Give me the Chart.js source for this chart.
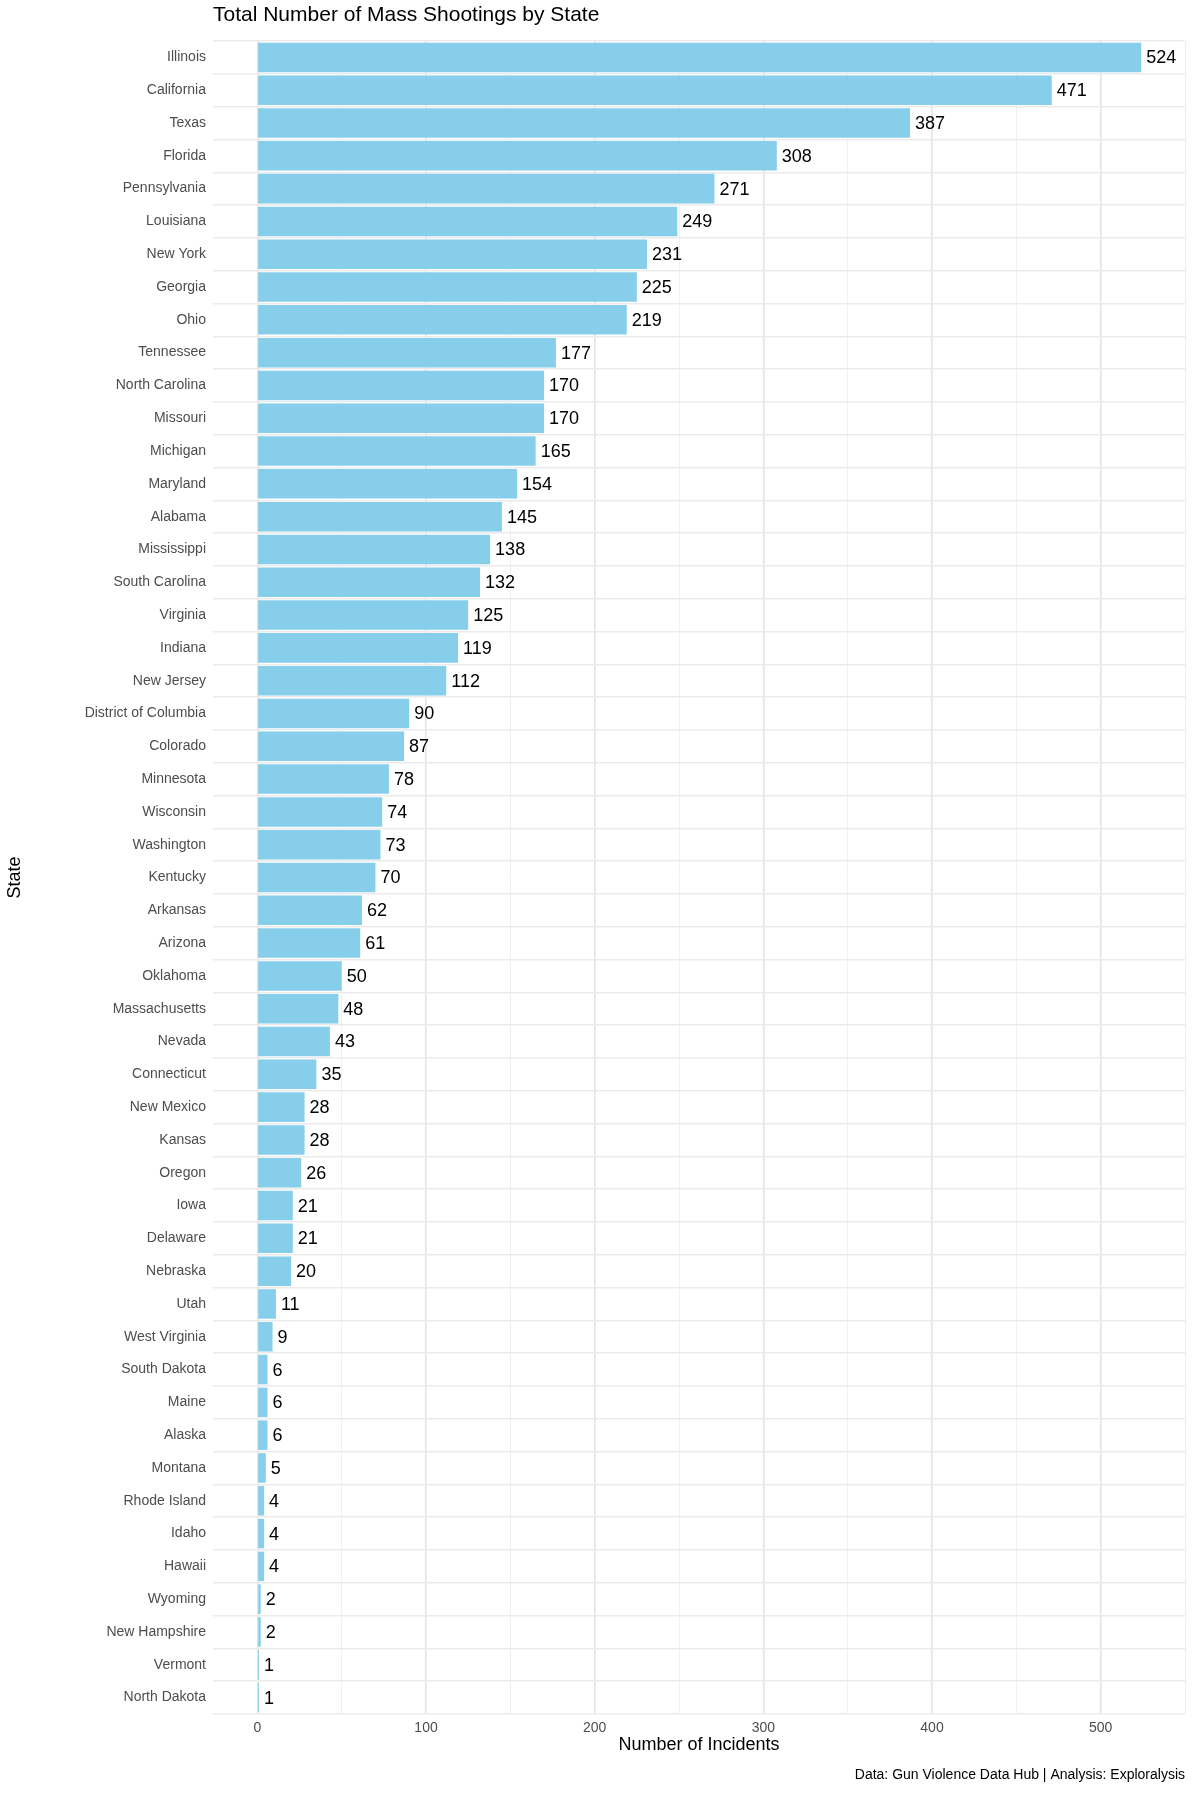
<!DOCTYPE html>
<html><head><script src="https://cdn.jsdelivr.net/npm/chart.js@4"></script>
<style>body{margin:0;background:#fff}</style></head>
<body><canvas id="c" width="1200" height="1800" style="width:1200px;height:1800px"></canvas>
<script>
const states=["Illinois","California","Texas","Florida","Pennsylvania","Louisiana","New York","Georgia","Ohio","Tennessee","North Carolina","Missouri","Michigan","Maryland","Alabama","Mississippi","South Carolina","Virginia","Indiana","New Jersey","District of Columbia","Colorado","Minnesota","Wisconsin","Washington","Kentucky","Arkansas","Arizona","Oklahoma","Massachusetts","Nevada","Connecticut","New Mexico","Kansas","Oregon","Iowa","Delaware","Nebraska","Utah","West Virginia","South Dakota","Maine","Alaska","Montana","Rhode Island","Idaho","Hawaii","Wyoming","New Hampshire","Vermont","North Dakota"];
const incidents=[524,471,387,308,271,249,231,225,219,177,170,170,165,154,145,138,132,125,119,112,90,87,78,74,73,70,62,61,50,48,43,35,28,28,26,21,21,20,11,9,6,6,6,5,4,4,4,2,2,1,1];
const xTicks=[0,50,100,150,200,250,300,350,400,450,500,550];
const F="Liberation Sans, Arial, sans-serif";
const deco={id:'deco',afterDatasetsDraw(ch){const c=ch.ctx;const m=ch.getDatasetMeta(0);c.save();c.fillStyle='#000';c.font='18px '+F;c.textBaseline='middle';
m.data.forEach((b,i)=>c.fillText(incidents[i],b.x+5,b.y+1));
c.font='21px '+F;c.textBaseline='top';c.fillText('Total Number of Mass Shootings by State',213,5);
c.font='14px '+F;c.textAlign='right';c.fillText('Data: Gun Violence Data Hub | Analysis: Exploralysis',1185,1768);c.restore();}};
new Chart(document.getElementById('c'),{type:'bar',
data:{labels:states,datasets:[{data:incidents,backgroundColor:'#87CEEB',categoryPercentage:0.9,barPercentage:1}]},
options:{indexAxis:'y',responsive:false,animation:false,layout:{padding:{top:41,bottom:40,right:15,left:0}},
plugins:{legend:{display:false},tooltip:{enabled:false}},
scales:{x:{min:-26.3,max:550,afterBuildTicks(s){s.ticks=xTicks.map(v=>({value:v}));},afterFit(s){s.height=46;},
border:{display:false},grid:{color:c=>(c.tick&&c.tick.value%100===0)?'#e4e4e4':'#f0f0f0',lineWidth:c=>(c.tick&&c.tick.value%100===0)?1.6:1,drawTicks:false},
ticks:{padding:6,color:'#4d4d4d',font:{size:14,family:F},callback:v=>v%100===0?v:''},
title:{display:true,text:'Number of Incidents',color:'#000',font:{size:18,family:F},padding:{top:2}}},
y:{afterFit(s){s.width=213;},border:{display:false},grid:{color:'#ebebeb',lineWidth:1.4,drawTicks:false},
ticks:{padding:7,color:'#4d4d4d',font:{size:14,family:F},autoSkip:false},
title:{display:true,text:'State',color:'#000',font:{size:18,family:F}}}}},
plugins:[deco]});
</script></body></html>
